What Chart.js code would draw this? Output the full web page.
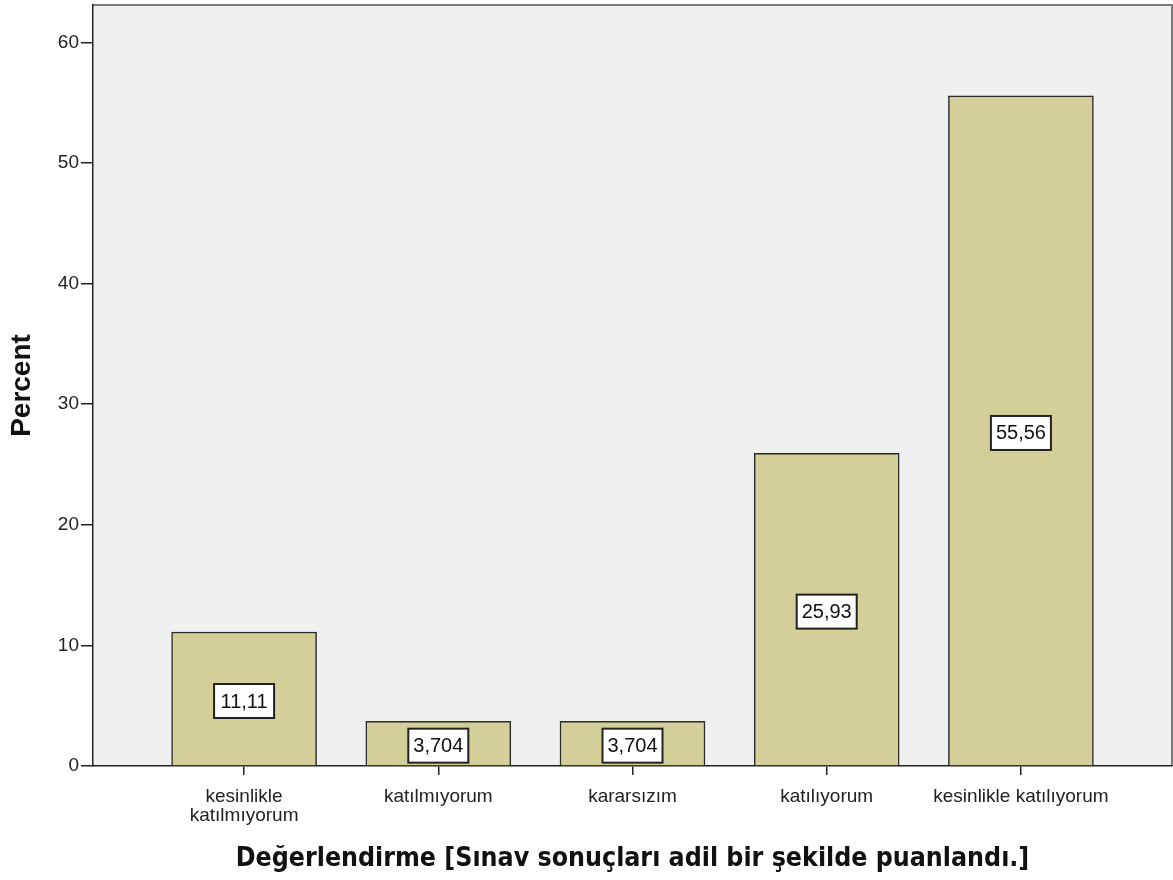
<!DOCTYPE html>
<html>
<head>
<meta charset="utf-8">
<script src="https://cdn.jsdelivr.net/npm/chart.js@4.4.1/dist/chart.umd.min.js"></script>
<style>
  html, body { margin: 0; padding: 0; background: #fff; }
  #wrap { width: 1173px; height: 880px; }
</style>
</head>
<body>
<div id="wrap"><canvas id="chart"></canvas></div>
<script>
const categories = [['kesinlikle', 'katılmıyorum'], 'katılmıyorum', 'kararsızım', 'katılıyorum', 'kesinlikle katılıyorum'];
const percentValues = [11.11, 3.704, 3.704, 25.93, 55.56];
const valueLabels = ['11,11', '3,704', '3,704', '25,93', '55,56'];
const yTicks = [0, 10, 20, 30, 40, 50, 60];

const plotBackground = {
  id: 'plotBackground',
  beforeDraw(chart) {
    const { ctx, chartArea: a } = chart;
    ctx.save();
    ctx.fillStyle = '#f0f0f0';
    ctx.fillRect(a.left, a.top, a.right - a.left, a.bottom - a.top);
    ctx.strokeStyle = '#7a7a7a';
    ctx.lineWidth = 2;
    ctx.beginPath();
    ctx.moveTo(a.left, a.top);
    ctx.lineTo(a.right, a.top);
    ctx.lineTo(a.right, a.bottom);
    ctx.stroke();
    ctx.restore();
  }
};

// white boxes with the value in the middle of each bar
const barLabels = {
  id: 'barLabels',
  afterDatasetsDraw(chart) {
    const { ctx } = chart;
    const meta = chart.getDatasetMeta(0);
    const yScale = chart.scales.y;
    ctx.save();
    ctx.font = '20px "Liberation Sans", Arial, sans-serif';
    ctx.textAlign = 'center';
    ctx.textBaseline = 'middle';
    meta.data.forEach((bar, i) => {
      const cy = yScale.getPixelForValue(percentValues[i] / 2) + 2;
      const w = 60, h = 34;
      ctx.fillStyle = '#ffffff';
      ctx.fillRect(bar.x - w / 2, cy - h / 2, w, h);
      ctx.strokeStyle = '#222';
      ctx.lineWidth = 2;
      ctx.strokeRect(bar.x - w / 2, cy - h / 2, w, h);
      ctx.fillStyle = '#111';
      ctx.fillText(valueLabels[i], bar.x, cy + 1);
    });
    ctx.restore();
  }
};

const ctx = document.getElementById('chart').getContext('2d');
new Chart(ctx, {
  type: 'bar',
  data: {
    datasets: [{
      data: percentValues.map((v, i) => ({ x: i, y: v })),
      backgroundColor: '#d3cf98',
      borderColor: '#2a2a2a',
      borderWidth: 1.5,
      barThickness: 145,
    }],
  },
  options: {
    responsive: true,
    maintainAspectRatio: false,
    animation: false,
    layout: { padding: { top: 5, right: 1, left: 0, bottom: 0 } },
    plugins: { legend: { display: false }, tooltip: { enabled: false } },
    scales: {
      x: {
        type: 'linear',
        offset: false,
        min: -0.778,
        max: 4.778,
        afterBuildTicks: (scale) => { scale.ticks = categories.map((c, i) => ({ value: i })); },
        afterFit: (scale) => { scale.height = 114; scale.paddingRight = 0; scale.paddingLeft = 0; },
        grid: { display: true, offset: false, drawOnChartArea: false, drawTicks: true, tickLength: 9, color: '#222', lineWidth: 1.5 },
        border: { display: true, color: '#222', width: 1.5 },
        ticks: {
          autoSkip: false,
          maxRotation: 0,
          padding: 12,
          color: '#222',
          font: { family: '"Liberation Sans", Arial, sans-serif', size: 19, lineHeight: 1.0 },
          callback: (v) => categories[v],
        },
        title: {
          display: true,
          text: 'Değerlendirme [Sınav sonuçları adil bir şekilde puanlandı.]',
          color: '#111',
          font: { family: '"DejaVu Sans Condensed", "DejaVu Sans", sans-serif', size: 26.5, weight: 'bold' },
          padding: { top: 0, bottom: 5 },
        },
      },
      y: {
        min: 0,
        max: 63.1,
        afterBuildTicks: (scale) => { scale.ticks = yTicks.map((v) => ({ value: v })); },
        afterFit: (scale) => { scale.width = 93; scale.paddingTop = 0; scale.paddingBottom = 0; },
        grid: { display: true, drawOnChartArea: false, drawTicks: true, tickLength: 12, color: '#222', lineWidth: 1.5 },
        border: { display: true, color: '#222', width: 1.5 },
        ticks: {
          padding: 2,
          color: '#222',
          font: { family: '"Liberation Sans", Arial, sans-serif', size: 19 },
        },
        title: {
          display: true,
          text: 'Percent',
          color: '#111',
          font: { family: '"Liberation Sans", Arial, sans-serif', size: 28, weight: 'bold' },
          padding: { top: 5, bottom: 0 },
        },
      },
    },
  },
  plugins: [plotBackground, barLabels],
});
</script>
</body>
</html>
